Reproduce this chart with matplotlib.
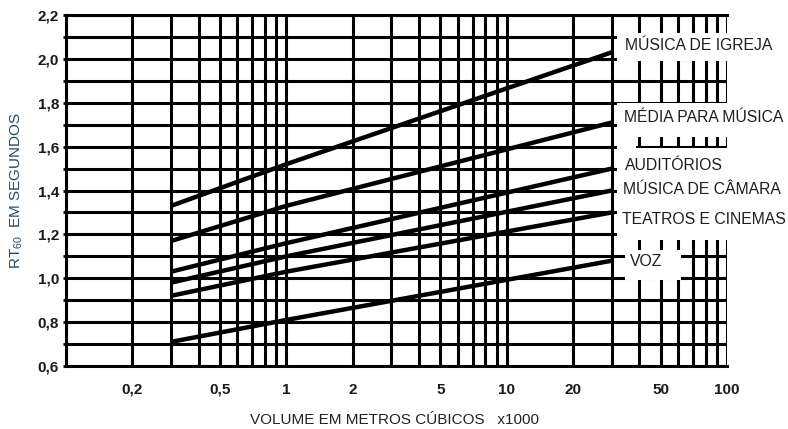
import matplotlib
matplotlib.use("Agg")
import matplotlib.pyplot as plt
from matplotlib.patches import Rectangle
from matplotlib.ticker import FixedLocator, FixedFormatter, NullFormatter

plt.rcParams['font.family'] = ['Liberation Sans', 'DejaVu Sans']
plt.rcParams['mathtext.default'] = 'regular'

# ---- data ----
categories = ["MÚSICA DE IGREJA", "MÉDIA PARA MÚSICA", "AUDITÓRIOS",
              "MÚSICA DE CÂMARA", "TEATROS E CINEMAS", "VOZ"]
volume = [0.3, 1, 30]            # x 1000 m³
igreja = [1.33, 1.52, 2.03]
media = [1.17, 1.33, 1.71]
auditorios = [1.03, 1.16, 1.50]
camara = [0.98, 1.10, 1.40]
teatros = [0.92, 1.03, 1.30]
voz = [0.71, 0.81, 1.08]
series = [igreja, media, auditorios, camara, teatros, voz]

x_major = [0.2, 0.5, 1, 2, 5, 10, 20, 50, 100]
x_major_labels = ["0,2", "0,5", "1", "2", "5", "10", "20", "50", "100"]
x_minor = [0.3, 0.4, 0.6, 0.7, 0.8, 0.9, 3, 4, 6, 7, 8, 9,
           30, 40, 60, 70, 80, 90]
y_major = [0.6, 0.8, 1.0, 1.2, 1.4, 1.6, 1.8, 2.0, 2.2]
y_major_labels = ["0,6", "0,8", "1,0", "1,2", "1,4", "1,6", "1,8", "2,0", "2,2"]
y_minor = [0.7, 0.9, 1.1, 1.3, 1.5, 1.7, 1.9, 2.1]

W, H = 788, 429
fig = plt.figure(figsize=(W / 100, H / 100), dpi=100)
ax = fig.add_axes([66 / W, 1 - 366 / H, (727 - 66) / W, (366 - 15) / H])
ax.set_xscale('log')
ax.set_xlim(0.1, 100)
ax.set_ylim(0.6, 2.2)

ax.xaxis.set_major_locator(FixedLocator(x_major))
ax.xaxis.set_major_formatter(FixedFormatter(x_major_labels))
ax.xaxis.set_minor_locator(FixedLocator(x_minor))
ax.xaxis.set_minor_formatter(NullFormatter())
ax.yaxis.set_major_locator(FixedLocator(y_major))
ax.yaxis.set_major_formatter(FixedFormatter(y_major_labels))
ax.yaxis.set_minor_locator(FixedLocator(y_minor))

ax.set_axisbelow(True)
ax.grid(True, which='both', color='black', linewidth=2.2)
ax.tick_params(axis='x', which='both', length=0, pad=12)
ax.tick_params(axis='y', which='major', length=2, width=2, pad=3)
ax.tick_params(axis='y', which='minor', length=2, width=2)
for lab in ax.get_xticklabels() + ax.get_yticklabels():
    lab.set_fontweight('bold')
    lab.set_fontsize(11)
    lab.set_color('#1a1a1a')

for s in ['left', 'bottom', 'top']:
    ax.spines[s].set_linewidth(2.2)
ax.spines['right'].set_visible(False)

# white label boxes covering the grid (styling)
boxes = [
    (31.6, 1.99, 200, 0.13),
    (31.6, 1.645, 200, 0.152),
    (31.6, 1.59, 38.6 - 31.6, 0.06),
    (31.6, 1.175, 200, 0.418),
    (34.4, 0.99, 61.8 - 34.4, 0.139),
]
for (bx, by, bw, bh) in boxes:
    ax.add_patch(Rectangle((bx, by), bw, bh, facecolor='white',
                           edgecolor='none', zorder=1))

for ys in series:
    ax.plot(volume, ys, color='black', linewidth=3.2,
            solid_capstyle='butt', zorder=3)

label_pos = [(625, 46), (624, 117), (625, 165), (623, 189), (622, 220), (630, 262)]
for name, (px, py) in zip(categories, label_pos):
    fig.text(px / W, 1 - py / H, name, fontsize=11.3, color='#1e1e1e',
             ha='left', va='center')

fig.text(395 / W, 1 - 420 / H, "VOLUME EM METROS CÚBICOS   x1000",
         fontsize=11, color='#222222', ha='center', va='center')
fig.text(17 / W, 1 - 191 / H, r"RT$_{60}$  EM SEGUNDOS", rotation=90,
         fontsize=11, color='#26486e', ha='center', va='center')

fig.savefig("out.png", dpi=100)
